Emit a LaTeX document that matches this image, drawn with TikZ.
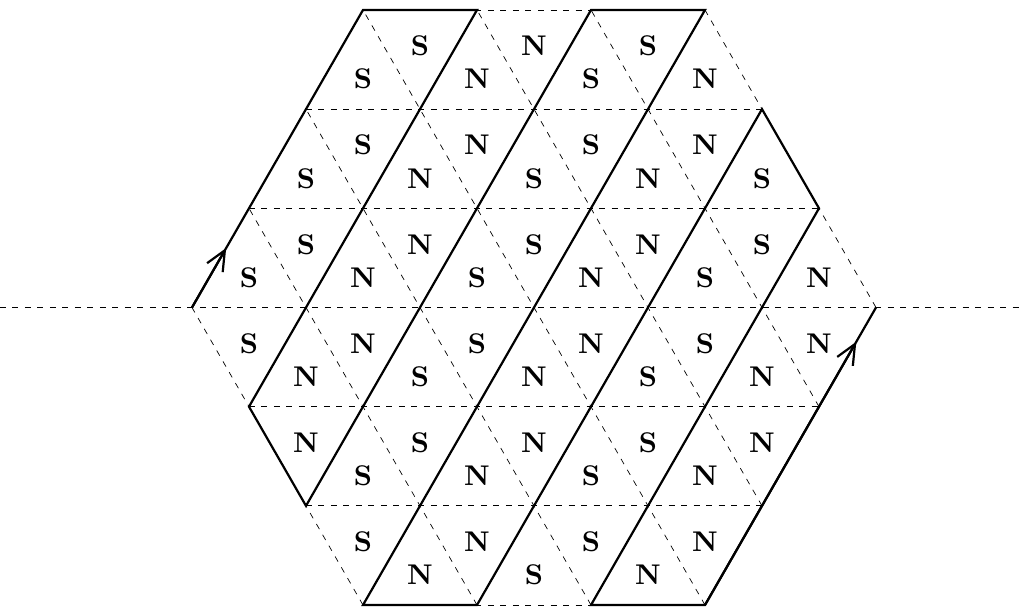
\documentclass[tikz,border=0pt]{standalone}
\usetikzlibrary{arrows.meta,calc}
\begin{document}
\begin{tikzpicture}[x=114pt,y=99.17pt,
  grid/.style={line width=0.7pt,dash pattern=on 6pt off 6.5pt},
  thickline/.style={line width=2.2pt},
  barb/.style={thickline,-{Straight Barb[length=20pt,width=18pt,line width=2.2pt]}},
  lab/.style={inner sep=0pt,yshift=-3pt,scale=2.85,font=\bfseries}]
\useasboundingbox (-4.6842,-3.0301) rectangle (4.2807,3.1007);
% dashed grid
\draw[grid] (-4.6842,0) -- (4.2807,0);
\foreach \k in {-3,-2,-1,1,2,3}{
  \pgfmathsetmacro\w{3-abs(\k)/2}
  \draw[grid] (-\w,\k) -- (\w,\k);
}
\foreach \d in {-3,...,3}{
  \pgfmathsetmacro\ka{max(-3,\d-3)}
  \pgfmathsetmacro\kb{min(3,\d+3)}
  \draw[grid] ({\d-\ka/2},\ka) -- ({\d-\kb/2},\kb);
}
% path vertices
\coordinate (P1) at (-3,0);
\coordinate (P2) at (-1.5,3);
\coordinate (P3) at (-0.5,3);
\coordinate (P4) at (-2.5,-1);
\coordinate (P5) at (-2,-2);
\coordinate (P6) at (0.5,3);
\coordinate (P7) at (1.5,3);
\coordinate (P8) at (-1.5,-3);
\coordinate (P9) at (-0.5,-3);
\coordinate (P10) at (2,2);
\coordinate (P11) at (2.5,1);
\coordinate (P12) at (0.5,-3);
\coordinate (P13) at (1.5,-3);
\coordinate (P14) at (3,0);
\draw[thickline] (P1) -- (P2) -- (P3) -- (P4) -- (P5) -- (P6) -- (P7) -- (P8)
  -- (P9) -- (P10) -- (P11) -- (P12) -- (P13) -- (P14);
\coordinate (A1) at ($(P1)!0.2!(P2)$);
\coordinate (A2) at ($(P13)!0.885!(P14)$);
\draw[barb] (P1) -- (A1);
\draw[barb] (P13) -- (A2);
% labels
\foreach \x/\y/\t [count=\i] in {
 -1.5/2.333/S, -1/2.667/S, -0.5/2.333/N, 0/2.667/N, 0.5/2.333/S, 1/2.667/S, 1.5/2.333/N,
 -2/1.333/S, -1.5/1.667/S, -1/1.333/N, -0.5/1.667/N, 0/1.333/S, 0.5/1.667/S, 1/1.333/N, 1.5/1.667/N, 2/1.333/S,
 -2.5/0.333/S, -2/0.667/S, -1.5/0.333/N, -1/0.667/N, -0.5/0.333/S, 0/0.667/S, 0.5/0.333/N, 1/0.667/N, 1.5/0.333/S, 2/0.667/S, 2.5/0.333/N,
 -2.5/-0.333/S, -2/-0.667/N, -1.5/-0.333/N, -1/-0.667/S, -0.5/-0.333/S, 0/-0.667/N, 0.5/-0.333/N, 1/-0.667/S, 1.5/-0.333/S, 2/-0.667/N, 2.5/-0.333/N,
 -2/-1.333/N, -1.5/-1.667/S, -1/-1.333/S, -0.5/-1.667/N, 0/-1.333/N, 0.5/-1.667/S, 1/-1.333/S, 1.5/-1.667/N, 2/-1.333/N,
 -1.5/-2.333/S, -1/-2.667/N, -0.5/-2.333/N, 0/-2.667/S, 0.5/-2.333/S, 1/-2.667/N, 1.5/-2.333/N}
  \node[lab] (L\i) at (\x,\y) {\t};
\end{tikzpicture}
\end{document}
